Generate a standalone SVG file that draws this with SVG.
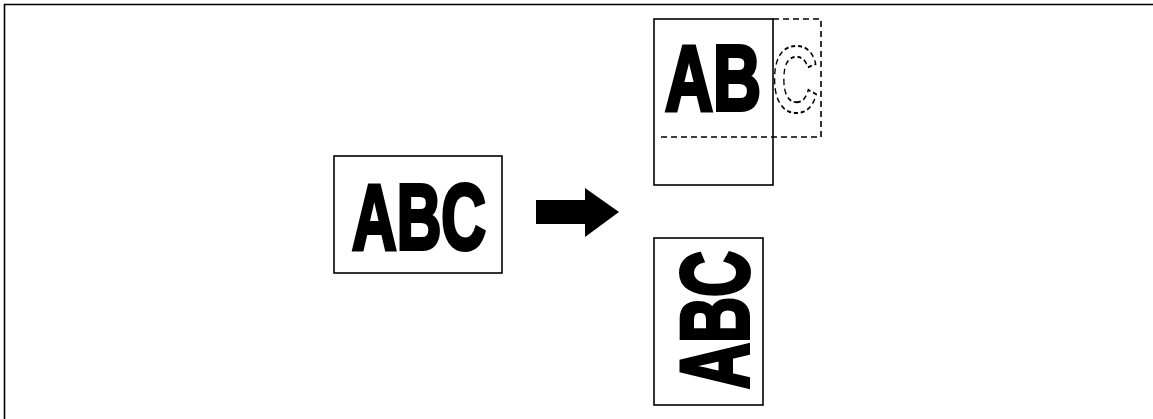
<svg xmlns="http://www.w3.org/2000/svg" width="1153" height="419" viewBox="0 0 1153 419">
<style>
.frame{fill:none;stroke:#000;stroke-width:1.6}
.box{fill:#fff;stroke:#000;stroke-width:1.6}
.dash{fill:none;stroke:#000;stroke-width:1.6;stroke-dasharray:6 4}
.big{font-family:"Liberation Sans",Arial,sans-serif;font-weight:bold;font-size:92px;fill:#000;stroke:#000;stroke-width:4;stroke-linejoin:miter}
.ghost{font-family:"Liberation Sans",Arial,sans-serif;font-weight:bold;font-size:94px;fill:none;stroke:#000;stroke-width:2;stroke-dasharray:6 4}
</style>
<path class="frame" d="M4.5,419 V4.5 H1153"/>
<g id="original">
<rect class="box" x="334" y="156" width="168" height="117"/>
<text class="big" x="352" y="249" textLength="134" lengthAdjust="spacingAndGlyphs">ABC</text>
</g>
<g id="connectors">
<path d="M536,200 H585 V188 L619,212 L585,237 V224 H536 Z" fill="#000"/>
</g>
<g id="cropped">
<rect class="box" x="654" y="19" width="119" height="166"/>
<text class="big" x="665" y="110" textLength="96" lengthAdjust="spacingAndGlyphs">AB</text>
<path class="dash" d="M773,19 H821 V137 H658"/>
<text class="ghost" x="772" y="112" textLength="46" lengthAdjust="spacingAndGlyphs">C</text>
</g>
<g id="rotated">
<rect class="box" x="654" y="238" width="109" height="167"/>
<text class="big" style="font-size:96px" transform="translate(748,389) rotate(-90)" x="0" y="0" textLength="138" lengthAdjust="spacingAndGlyphs">ABC</text>
</g>
</svg>
